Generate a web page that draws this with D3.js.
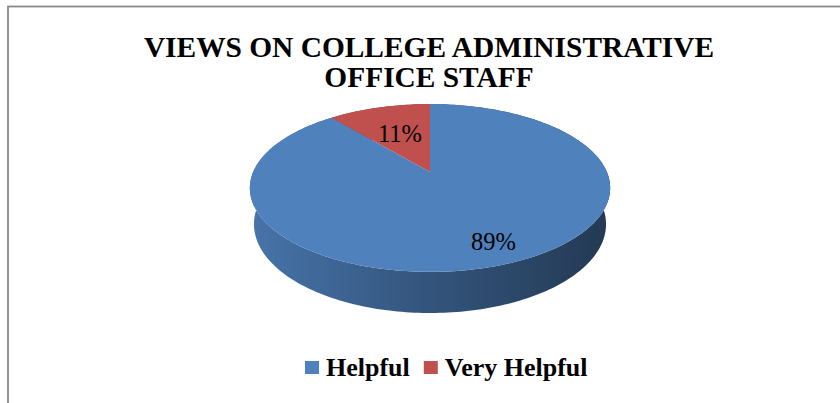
<!DOCTYPE html>
<html>
<head>
<meta charset="utf-8">
<script src="https://cdn.jsdelivr.net/npm/d3@7"></script>
<style>
  body { margin: 0; background: #fff; }
  svg { display: block; }
  text { font-family: "Times New Roman", "Liberation Serif", serif; fill: #000; }
</style>
</head>
<body>
<svg width="840" height="403"></svg>
<script>
// chart data
var categories = ["Helpful", "Very Helpful"];
var values = [89, 11];
var labels = ["89%", "11%"];
var colors = ["#4f81bd", "#c0504d"];
var titleLines = ["VIEWS ON COLLEGE ADMINISTRATIVE", "OFFICE STAFF"];

var svg = d3.select("svg"),
	width = +svg.attr("width"),
	height = +svg.attr("height");

// chart frame (right / bottom edges fall outside the crop)
svg.append("rect")
	.attr("x", 8).attr("y", 6.5)
	.attr("width", width + 20).attr("height", height + 20)
	.attr("fill", "#fff")
	.attr("stroke", "#898989")
	.attr("stroke-width", 1.8);

// title
svg.append("g").selectAll("text")
	.data(titleLines)
	.enter().append("text")
	.attr("x", 429)
	.attr("y", function(d, i) { return 57 + i * 30; })
	.attr("text-anchor", "middle")
	.attr("font-size", "29.4px")
	.attr("font-weight", "bold")
	.text(function(d) { return d; });

// 3d pie: perspective projection of a tilted disc
var cx = 430, cy = 172,
	tilt = 27.2 * Math.PI / 180,
	ct = Math.cos(tilt), st = Math.sin(tilt),
	dist = 4.67, focal = 826, depth = 0.232;

function project(theta, r, y) {
	var X = r * Math.sin(theta),
		Z = r * Math.cos(theta);
	var yc = Z * st + y * ct,
		zc = Z * ct - y * st;
	return [cx + focal * X / (dist + zc), cy - focal * yc / (dist + zc)];
}

function arcPoints(a0, a1, r, y) {
	var n = Math.max(2, Math.ceil(Math.abs(a1 - a0) / 0.02)),
		pts = [];
	for (var i = 0; i <= n; i++) {
		pts.push(project(a0 + (a1 - a0) * i / n, r, y));
	}
	return pts;
}

var pie = d3.pie().sort(null).value(function(d) { return d; });
var slices = pie(values);
var line = d3.line();

var defs = svg.append("defs");
slices.forEach(function(d, i) {
	var base = d3.color(colors[i]);
	var g = defs.append("linearGradient")
		.attr("id", "wall" + i)
		.attr("gradientUnits", "userSpaceOnUse")
		.attr("x1", cx - 180).attr("x2", cx + 180)
		.attr("y1", 0).attr("y2", 0);
	g.append("stop").attr("offset", "0").attr("stop-color", base.darker(0.3));
	g.append("stop").attr("offset", "0.45").attr("stop-color", base.darker(1.1));
	g.append("stop").attr("offset", "1").attr("stop-color", base.darker(2.3));
});

// side walls first
svg.append("g").attr("class", "walls")
	.selectAll("path")
	.data(slices)
	.enter().append("path")
	.attr("d", function(d) {
		var top = arcPoints(d.startAngle, d.endAngle, 1, 0),
			bot = arcPoints(d.endAngle, d.startAngle, 1, -depth);
		return line(top.concat(bot)) + "Z";
	})
	.attr("fill", function(d, i) { return "url(#wall" + i + ")"; });

// top faces
svg.append("g").attr("class", "tops")
	.selectAll("path")
	.data(slices)
	.enter().append("path")
	.attr("d", function(d) {
		var pts = [project(0, 0, 0)].concat(arcPoints(d.startAngle, d.endAngle, 1, 0));
		return line(pts) + "Z";
	})
	.attr("fill", function(d, i) { return colors[i]; });

// data labels
svg.append("g").attr("class", "labels")
	.selectAll("text")
	.data(slices)
	.enter().append("text")
	.attr("transform", function(d) {
		var mid = (d.startAngle + d.endAngle) / 2,
			r = d.data > 50 ? 0.8 : 0.55;
		var p = project(mid - (d.data > 50 ? 0.05 : 0), r, 0);
		return "translate(" + p[0] + "," + p[1] + ")";
	})
	.attr("dy", "0.34em")
	.attr("text-anchor", "middle")
	.attr("font-size", "24.5px")
	.text(function(d, i) { return labels[i]; });

// legend
var legend = svg.append("g").attr("class", "legend");
var lx = 305;
categories.forEach(function(name, i) {
	legend.append("rect")
		.attr("x", lx).attr("y", 361)
		.attr("width", 14).attr("height", 13)
		.attr("fill", colors[i]);
	var t = legend.append("text")
		.attr("x", lx + 21).attr("y", 376)
		.attr("font-size", "26px")
		.attr("font-weight", "bold")
		.text(name);
	lx += 21 + t.node().getComputedTextLength() + 14;
});
</script>
</body>
</html>
